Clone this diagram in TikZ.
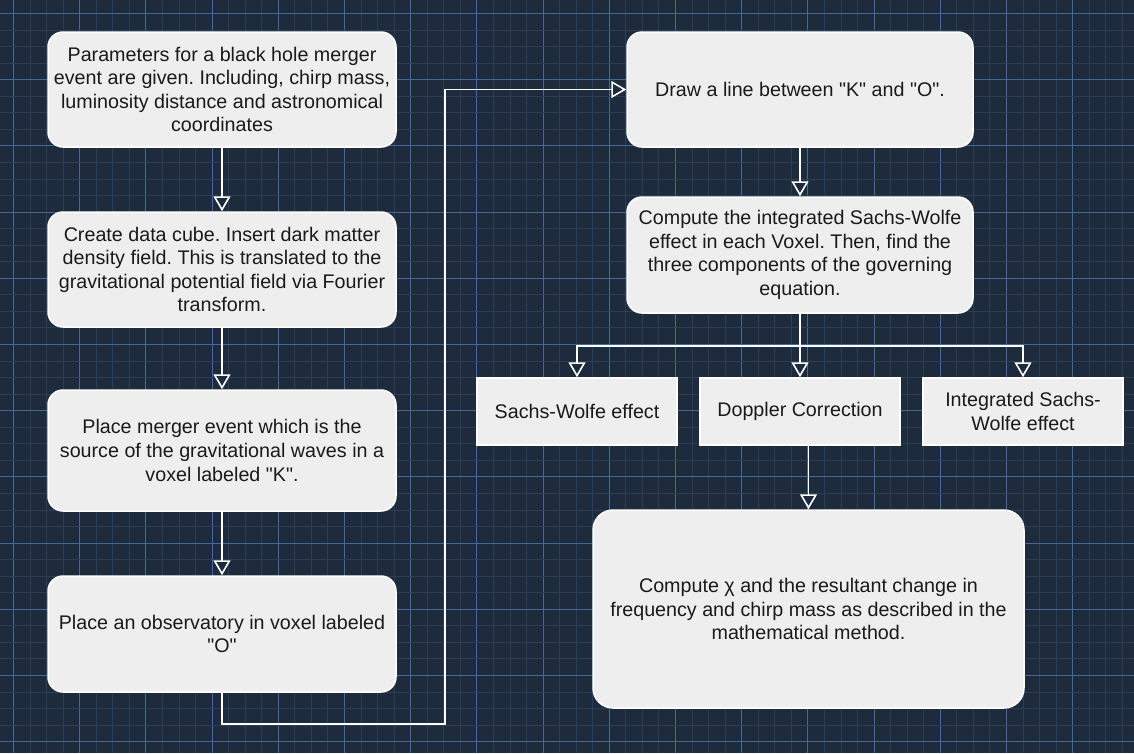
\documentclass[tikz,border=0pt]{standalone}
\usepackage{fontspec}
\setmainfont{Liberation Sans}[Ligatures=TeXOff]
\usetikzlibrary{arrows.meta}
\definecolor{bg}{RGB}{30,43,60}
\definecolor{minorc}{RGB}{42,62,86}
\definecolor{majorc}{RGB}{70,106,148}
\definecolor{boxfill}{RGB}{238,238,238}
\definecolor{txt}{RGB}{26,26,26}
\tikzset{
  box/.style={draw=white, line width=1.5pt, fill=boxfill, text=txt, align=center,
    font=\fontsize{19.7pt}{23.6pt}\selectfont\frenchspacing, inner sep=0pt},
  rbox/.style={box, rounded corners=15pt},
  sbox/.style={box, minimum width=200pt, minimum height=67pt},
  conn/.style={draw=white, line width=1.6pt,
    -{Triangle[length=15pt,width=17pt,fill=bg,line width=1.6pt]}},
  minorline/.style={draw=minorc, line width=1pt},
  majorline/.style={draw=majorc, line width=1pt}
}
\begin{document}
\begin{tikzpicture}[x=1pt,y=-1pt]
\useasboundingbox (0,0) rectangle (1134,753);
\fill[bg] (0,0) rectangle (1134,753);
% grid
\foreach \i in {0,...,68} {
  \pgfmathtruncatemacro{\m}{mod(\i,4)}
  \ifnum\m=0\relax
    \draw[majorline] ({13.5+16.55*\i},0) -- ({13.5+16.55*\i},753);
  \else
    \draw[minorline] ({13.5+16.55*\i},0) -- ({13.5+16.55*\i},753);
  \fi
}
\foreach \i in {0,...,44} {
  \pgfmathtruncatemacro{\m}{mod(\i,4)}
  \ifnum\m=0\relax
    \draw[majorline] (0,{13.5+16.55*\i}) -- (1134,{13.5+16.55*\i});
  \else
    \draw[minorline] (0,{13.5+16.55*\i}) -- (1134,{13.5+16.55*\i});
  \fi
}
% left column
\node[rbox, minimum width=348pt, minimum height=115pt] (b1) at (222,89.5)
  {Parameters for a black hole merger\\event are given. Including, chirp mass,\\luminosity distance and astronomical\\coordinates};
\node[rbox, minimum width=348pt, minimum height=115pt] (b2) at (222,269.5)
  {Create data cube. Insert dark matter\\density field. This is translated to the\\gravitational potential field via Fourier\\transform.};
\node[rbox, minimum width=348pt, minimum height=121pt] (b3) at (222,450.5)
  {Place merger event which is the\\source of the gravitational waves in a\\voxel labeled "K".};
\node[rbox, minimum width=348pt, minimum height=116pt] (b4) at (222,634)
  {Place an observatory in voxel labeled\\"O"};
% right column
\node[rbox, minimum width=346pt, minimum height=115pt] (b5) at (800,89.5)
  {Draw a line between "K" and "O".};
\node[rbox, minimum width=346pt, minimum height=116pt] (b6) at (800,255)
  {Compute the integrated Sachs-Wolfe\\effect in each Voxel. Then, find the\\three components of the governing\\equation.};
\node[sbox] (sw) at (577,411.5) {Sachs-Wolfe effect};
\node[sbox] (dop) at (800,411.5) {Doppler Correction};
\node[sbox] (isw) at (1023,411.5) {Integrated Sachs-\\Wolfe effect};
\node[box, rounded corners=20pt, minimum width=431pt, minimum height=198pt] (big) at (808.5,609)
  {Compute \char"03C7{} and the resultant change in\\frequency and chirp mass as described in the\\mathematical method.};
% connectors
\coordinate (loopA) at (445,724);
\coordinate (split) at (800,346);
\draw[conn] (b1) -- (b2);
\draw[conn] (b2) -- (b3);
\draw[conn] (b3) -- (b4);
\draw[conn] (b4.south) |- (loopA) |- (b5.west);
\draw[conn] (b5) -- (b6);
\draw[conn] (b6) -- (dop);
\draw[conn] (split) -| (sw.north);
\draw[conn] (split) -| (isw.north);
\draw[conn] (big.north |- dop.south) -- (big.north);
\end{tikzpicture}
\end{document}
